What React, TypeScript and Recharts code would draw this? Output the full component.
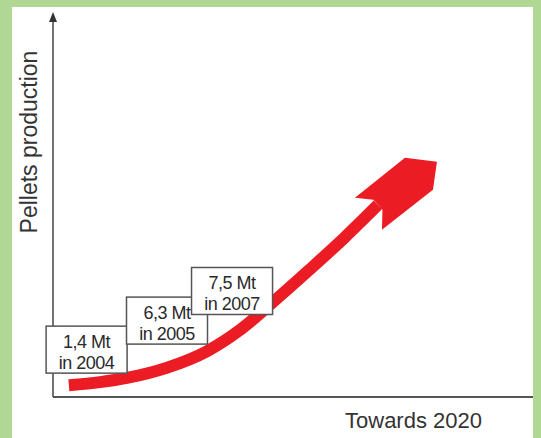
import React from 'react';
import {
  LineChart,
  Line,
  XAxis,
  YAxis,
  ReferenceDot,
  Label
} from 'recharts';

// growth curve (abstract 0..100 units on both axes)
const curveX = [3.3, 9.8, 15.4, 23.8, 32.1, 39.0, 45.6, 53.5, 60.8, 67.7];
const curveY = [3.1, 3.9, 5.0, 7.7, 12.0, 17.6, 24.6, 33.4, 41.8, 50.3];

// milestone boxes
const amounts = ['1,4 Mt', '6,3 Mt', '7,5 Mt'];
const years = ['2004', '2005', '2007'];
const boxX = [7.0, 23.75, 37.3];
const boxY = [12.4, 20.0, 27.75];

const curveData = curveX.map((x, i) => ({ x, y: curveY[i] }));

const RED = '#ec1c24';
const FONT = '"Liberation Sans", Arial, sans-serif';
const BOX_W = 81;
const BOX_H = 47;

const ArrowHead = (props: any) => {
  const { cx, cy, index } = props;
  if (index !== curveData.length - 1 || cx == null) return <g key={`dot-${index}`} />;
  const pts = [
    [-4.5, -5], [-23, -7], [27, -47], [59, -43], [55, -15], [4, 25], [4.5, 5]
  ].map(([dx, dy]) => `${cx + dx},${cy + dy}`).join(' ');
  return <polygon key={`dot-${index}`} points={pts} fill={RED} />;
};

const AxisArrow = (props: any) => {
  const { cx, cy } = props;
  return <polygon points={`${cx},${cy - 3} ${cx - 4},${cy + 7} ${cx + 4},${cy + 7}`} fill="#333" />;
};

const makeBox = (i: number) => (props: any) => {
  const { cx, cy } = props;
  return (
    <g>
      <rect x={cx - BOX_W / 2} y={cy - BOX_H / 2} width={BOX_W} height={BOX_H} fill="#fff" stroke="#555" strokeWidth={1.5} />
      <text x={cx} y={cy - 2} textAnchor="middle" fontFamily={FONT} fontSize={18} letterSpacing={-0.5} fill="#2a2a2a">
        {amounts[i]}
      </text>
      <text x={cx} y={cy + 19.5} textAnchor="middle" fontFamily={FONT} fontSize={18} letterSpacing={-0.5} fill="#2a2a2a">
        {`in ${years[i]}`}
      </text>
    </g>
  );
};

const xLabel = (props: any) => {
  const vb = props.viewBox || { x: 53, y: 397, width: 480, height: 41 };
  return (
    <text x={vb.x + vb.width - 51} y={vb.y + 31} textAnchor="end" fontFamily={FONT} fontSize={22} fill="#333">
      Towards 2020
    </text>
  );
};

const yLabel = (props: any) => {
  const vb = props.viewBox || { x: 0, y: 15, width: 53, height: 382 };
  const x = vb.x + 37;
  const y = vb.y + 127;
  return (
    <text x={x} y={y} transform={`rotate(-90, ${x}, ${y})`} textAnchor="middle" fontFamily={FONT} fontSize={23} fill="#333">
      Pellets production
    </text>
  );
};

export default function App() {
  return (
    <div style={{ position: 'absolute', left: 0, top: 0, width: 541, height: 438, background: '#b0d794' }}>
      <div style={{ position: 'absolute', left: 12, top: 7, width: 521, height: 431, background: '#fff' }} />
      <div style={{ position: 'absolute', left: 0, top: 0 }}>
        <LineChart width={541} height={438} data={curveData} margin={{ top: 15, right: 8, bottom: 0, left: 0 }}>
          <XAxis
            type="number"
            dataKey="x"
            domain={[0, 100]}
            height={41}
            tick={false}
            tickLine={false}
            axisLine={{ stroke: '#555', strokeWidth: 2 }}
          >
            <Label content={xLabel} />
          </XAxis>
          <YAxis
            type="number"
            domain={[0, 100]}
            width={53}
            tick={false}
            tickLine={false}
            axisLine={{ stroke: '#444', strokeWidth: 1.5 }}
          >
            <Label content={yLabel} />
          </YAxis>
          <Line
            type="monotone"
            dataKey="y"
            stroke={RED}
            strokeWidth={12}
            dot={ArrowHead}
            activeDot={false}
            isAnimationActive={false}
          />
          <ReferenceDot x={0} y={100} shape={AxisArrow} ifOverflow="visible" />
          {amounts.map((a, i) => (
            <ReferenceDot key={a} x={boxX[i]} y={boxY[i]} shape={makeBox(i)} ifOverflow="visible" />
          ))}
        </LineChart>
      </div>
    </div>
  );
}
